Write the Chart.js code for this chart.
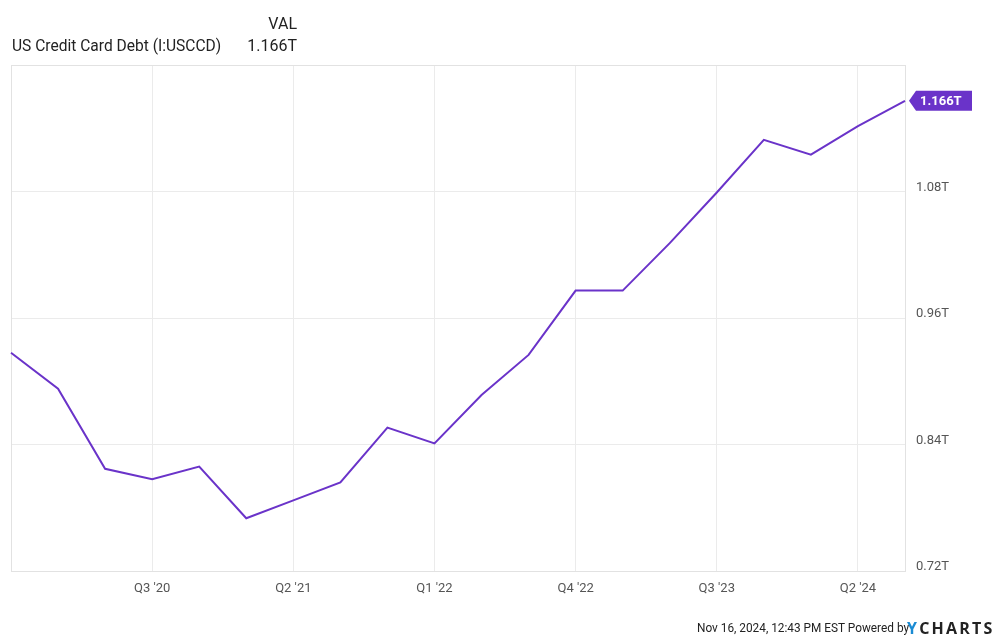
<!DOCTYPE html>
<html>
<head>
<meta charset="utf-8">
<script src="https://cdn.jsdelivr.net/npm/chart.js@4"></script>
<style>
  html, body { margin: 0; padding: 0; background: #fff; }
  #wrap { position: relative; width: 1000px; height: 643px; font-family: Roboto, "Noto Sans", sans-serif; color: #222; }
  canvas { position: absolute; left: 0; top: 0; }
  .hdr { position: absolute; font-size: 16px; white-space: nowrap; }
  .foot { position: absolute; font-size: 13px; white-space: nowrap; color: #222; transform: scaleX(0.91); transform-origin: left center; }
  .logo { position: absolute; font-size: 16px; font-weight: 700; letter-spacing: 2.2px; font-family: "Open Sans", Roboto, sans-serif; }
</style>
</head>
<body>
<div id="wrap">
  <canvas id="debtChart" width="1000" height="643"></canvas>
  <div class="hdr" style="right:703px; top:14px;">VAL</div>
  <div class="hdr" style="left:12px; top:36px; transform: scaleX(0.972); transform-origin: left center;">US Credit Card Debt (I:USCCD)</div>
  <div class="hdr" style="right:703px; top:36px;">1.166T</div>
  <div class="foot" style="left:697px; top:620px;">Nov 16, 2024, 12:43 PM EST Powered by</div>
  <div class="logo" style="left:907px; top:617px;"><span style="color:#1a8bd3">Y</span>CHARTS</div>
</div>
<script>
// quarterly, trillions USD
const quarters = ["Q4 '19", "Q1 '20", "Q2 '20", "Q3 '20", "Q4 '20", "Q1 '21", "Q2 '21", "Q3 '21",
  "Q4 '21", "Q1 '22", "Q2 '22", "Q3 '22", "Q4 '22", "Q1 '23", "Q2 '23", "Q3 '23",
  "Q4 '23", "Q1 '24", "Q2 '24", "Q3 '24"];
const debt = [0.927, 0.893, 0.817, 0.807, 0.819, 0.770, 0.787, 0.804,
  0.856, 0.841, 0.887, 0.925, 0.986, 0.986, 1.031, 1.079,
  1.129, 1.115, 1.142, 1.166];
const yTicks = [0.72, 0.84, 0.96, 1.08];
const lastLabel = '1.166T';

const purple = '#6a33c9';
const gridCol = '#ebebeb';

// show a quarter label every 3rd point, starting at Q3 '20
const showTick = (i) => i > 0 && i % 3 === 0;

const frame = {
  id: 'frame',
  beforeDatasetsDraw(chart) {
    const a = chart.chartArea, c = chart.ctx;
    c.save();
    c.strokeStyle = '#e2e2e2';
    c.lineWidth = 1;
    c.strokeRect(Math.round(a.left) + 0.5, Math.round(a.top) + 0.5, Math.round(a.right - a.left), Math.round(a.bottom - a.top));
    c.restore();
  }
};

const endTag = {
  id: 'endTag',
  afterDatasetsDraw(chart) {
    const pt = chart.getDatasetMeta(0).data[debt.length - 1];
    const c = chart.ctx;
    const x = pt.x + 4, y = pt.y, h = 20, w = 63, tip = 7;
    c.save();
    c.fillStyle = purple;
    c.beginPath();
    c.moveTo(x, y);
    c.lineTo(x + tip, y - h / 2);
    c.lineTo(x + w, y - h / 2);
    c.lineTo(x + w, y + h / 2);
    c.lineTo(x + tip, y + h / 2);
    c.closePath();
    c.fill();
    c.fillStyle = '#fff';
    c.font = 'bold 13px Roboto';
    c.textBaseline = 'middle';
    c.textAlign = 'left';
    c.fillText(lastLabel, x + tip + 4, y + 1);
    c.restore();
  }
};

new Chart(document.getElementById('debtChart'), {
  type: 'line',
  data: {
    labels: quarters,
    datasets: [{
      data: debt,
      borderColor: purple,
      borderWidth: 2,
      pointRadius: 0,
      tension: 0,
      fill: false
    }]
  },
  options: {
    responsive: false,
    animation: false,
    layout: { padding: { left: 11, top: 65, right: 0, bottom: 42 } },
    plugins: { legend: { display: false }, tooltip: { enabled: false } },
    scales: {
      x: {
        type: 'category',
        offset: false,
        afterFit: (s) => { s.height = 30; },
        border: { display: false },
        grid: {
          color: (ctx) => showTick(ctx.index) ? gridCol : 'rgba(0,0,0,0)',
          drawTicks: false
        },
        ticks: {
          autoSkip: false,
          maxRotation: 0,
          padding: 10,
          color: '#555',
          font: { family: 'Roboto', size: 13 },
          callback: (v, i) => showTick(i) ? quarters[i] : ''
        }
      },
      y: {
        position: 'right',
        min: 0.72,
        max: 1.2,
        afterFit: (s) => { s.width = 95; },
        afterBuildTicks: (s) => { s.ticks = yTicks.concat([1.2]).map(v => ({ value: v })); },
        border: { display: false },
        grid: { color: gridCol, drawTicks: false },
        ticks: {
          padding: 11,
          labelOffset: -4,
          color: '#555',
          font: { family: 'Roboto', size: 13 },
          callback: (v) => yTicks.some(t => Math.abs(t - v) < 1e-6) ? v.toFixed(2) + 'T' : ''
        }
      }
    }
  },
  plugins: [frame, endTag]
});
</script>
</body>
</html>
